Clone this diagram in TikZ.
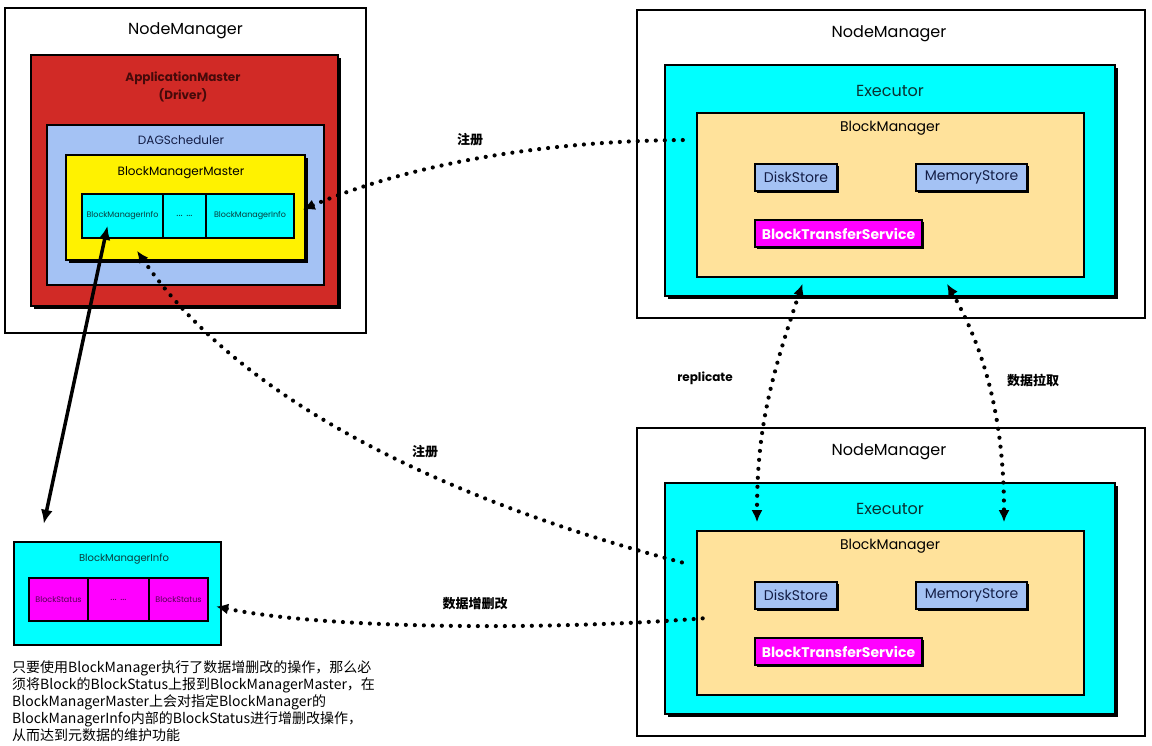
\documentclass[tikz,border=0pt]{standalone}
\usepackage{fontspec}
\setmainfont{Poppins}
\newfontfamily\cjk{Noto Sans CJK SC}
\usetikzlibrary{shapes, arrows.meta, shadows, calc, positioning}
\definecolor{amred}{RGB}{209,42,38}
\definecolor{amtext}{RGB}{70,10,10}
\definecolor{dagblue}{RGB}{164,194,244}
\definecolor{dagtext}{RGB}{20,30,70}
\definecolor{bmwheat}{RGB}{255,226,155}
\definecolor{excyan}{RGB}{0,255,255}
\definecolor{bsmagenta}{RGB}{255,0,255}
\definecolor{extext}{RGB}{10,50,50}
\definecolor{infotext}{RGB}{10,60,60}
\definecolor{bstext}{RGB}{80,0,80}

\tikzset{
    box/.style = {draw=black, line width=1.6pt, inner sep=0pt},
    shbox/.style = {box, drop shadow={shadow xshift=3pt, shadow yshift=-3pt, fill=black, opacity=1}},
    title/.style = {inner sep=0pt, anchor=center},
    store/.style = {box, drop shadow={shadow xshift=2pt, shadow yshift=-2pt, fill=black, opacity=1},
        minimum height=27pt, font=\fontsize{14}{14}\selectfont},
    dotline/.style = {line width=4.2pt, dash pattern=on 0pt off 9pt, line cap=round,
        {Latex[length=12pt,width=11pt]}-},
    dotboth/.style = {dotline, {Latex[length=12pt,width=11pt]}-{Latex[length=12pt,width=11pt]}},
    bigarrow/.style = {line width=3.5pt, {Latex[length=14pt,width=12pt]}-{Latex[length=14pt,width=12pt]}},
    lab/.style = {font=\cjk\bfseries\fontsize{13}{13}\selectfont, inner sep=1pt}
}

\begin{document}
\begin{tikzpicture}[x=1pt, y=-1pt]
    \useasboundingbox (0,0) rectangle (1152,745);
    % driver side
    \node[box, line width=1.8pt, fill=white, minimum width=361pt, minimum height=325pt] (nm1) at (185.5,170.5) {};
    \node[title, font=\fontsize{16}{16}\selectfont] (t-nm1) at ($(nm1.north)+(0,24)$) {NodeManager};
    \node[shbox, fill=amred, minimum width=307pt, minimum height=251pt] (am) at (184.5,180.5) {};
    \node[title, align=center, text=amtext, font=\bfseries\fontsize{12}{18}\selectfont] (t-am) at (183,87) {ApplicationMaster\\(Driver)};
    \node[box, fill=dagblue, minimum width=277pt, minimum height=160pt] (dag) at (185.5,205) {};
    \node[title, text=dagtext, font=\fontsize{12}{12}\selectfont] (t-dag) at (181,140) {DAGScheduler};
    \node[shbox, fill=yellow, minimum width=239pt, minimum height=105pt] (bmm) at (185.5,207.5) {};
    \node[title, font=\fontsize{12}{12}\selectfont] (t-bmm) at (181,173) {BlockManagerMaster};
    \foreach \n/\cx/\w/\fs/\txt in {1/122.5/81/8/BlockManagerInfo, 2/184.5/43/10/{... ...}, 3/250/88/8/BlockManagerInfo}{
        \node[box, fill=excyan, minimum width=\w pt, minimum height=44pt, text=infotext,
            font=\fontsize{\fs}{\fs}\selectfont] (bi\n) at (\cx,216) {\txt};
    }
    % executor side
    \foreach \k/\dy in {2/0, 3/418}{
        \node[box, line width=1.8pt, fill=white, minimum width=508pt, minimum height=308pt] (nm\k) at (891,{164+\dy}) {};
        \node[title, font=\fontsize{16}{16}\selectfont] (t-nm\k) at (889,{34+\dy}) {NodeManager};
        \node[shbox, fill=excyan, minimum width=450pt, minimum height=231pt] (ex\k) at (890,{180.5+\dy}) {};
        \node[title, text=extext, font=\fontsize{16}{16}\selectfont] (t-ex\k) at (890,{91+\dy}) {Executor};
        \node[box, fill=bmwheat, minimum width=387pt, minimum height=164pt] (bm\k) at (890.5,{195+\dy}) {};
        \node[title, font=\fontsize{14}{14}\selectfont] (t-bm\k) at (890,{128+\dy}) {BlockManager};
        \node[store, fill=dagblue, text=dagtext, minimum width=82pt] (ds\k) at (796,{177.5+\dy}) {DiskStore};
        \node[store, fill=dagblue, text=dagtext, minimum width=111pt] (ms\k) at (971.5,{177.5+\dy}) {MemoryStore};
        \node[store, fill=bsmagenta, text=white, minimum width=167pt, font=\bfseries\fontsize{14}{14}\selectfont] (bts\k) at (838.5,{233.5+\dy}) {BlockTransferService};
    }
    % metadata
    \node[box, line width=2.4pt, fill=excyan, minimum width=207pt, minimum height=103pt] (bmi) at (117.5,593.5) {};
    \node[title, text=infotext, font=\fontsize{10}{10}\selectfont] (t-bmi) at (124,559) {BlockManagerInfo};
    \foreach \n/\cx/\w/\fs/\txt in {1/58.5/59/8/BlockStatus, 2/118.5/61/10/{... ...}, 3/178.5/59/8/BlockStatus}{
        \node[box, line width=2pt, fill=bsmagenta, minimum width=\w pt, minimum height=43pt, text=bstext,
            font=\fontsize{\fs}{\fs}\selectfont] (bs\n) at (\cx,599.5) {\txt};
    }
    \node[anchor=north west, inner sep=0pt, align=left, font=\cjk\fontsize{14}{17}\selectfont] (note) at (12,660)
        {只要使用BlockManager执行了数据增删改的操作，那么必\\须将Block的BlockStatus上报到BlockManagerMaster，在\\BlockManagerMaster上会对指定BlockManager的\\BlockManagerInfo内部的BlockStatus进行增删改操作，\\从而达到元数据的维护功能};
    % connectors
    \draw[dotline] ($(bmm.east)+(-3,2)$) .. controls (420,160) and (560,140) .. ($(bm2.west)+(-5,-55)$);
    \draw[dotline] ($(bmm.south)+(-48.5,-10)$) .. controls (260,430) and (520,520) .. ($(bm3.west)+(-12,-50)$);
    \draw[bigarrow] ($(bi1.south)+(-15,-13)$) -- ($(bmi.north west)+(31,-17)$);
    \draw[dotboth] ($(bm2.south)+(-88,6)$) .. controls (770,380) and (757,430) .. ($(bm3.north)+(-133.5,-8)$);
    \draw[dotboth] ($(bm2.south)+(56.5,6)$) .. controls (985,350) and (1004,420) .. ($(bm3.north)+(113.5,-8)$);
    \draw[dotline] ($(bmi.east)+(-6,13)$) .. controls (330,630) and (560,630) .. ($(bm3.west)+(11,5)$);
    \node[lab] (l-reg1) at (470,140) {注册};
    \node[lab] (l-reg2) at (425,452) {注册};
    \node[title, font=\bfseries\fontsize{12}{12}\selectfont] (l-rep) at (705,378) {replicate};
    \node[lab] (l-pull) at (1033,380) {数据拉取};
    \node[lab] (l-mod) at (475,604) {数据增删改};
\end{tikzpicture}
\end{document}
